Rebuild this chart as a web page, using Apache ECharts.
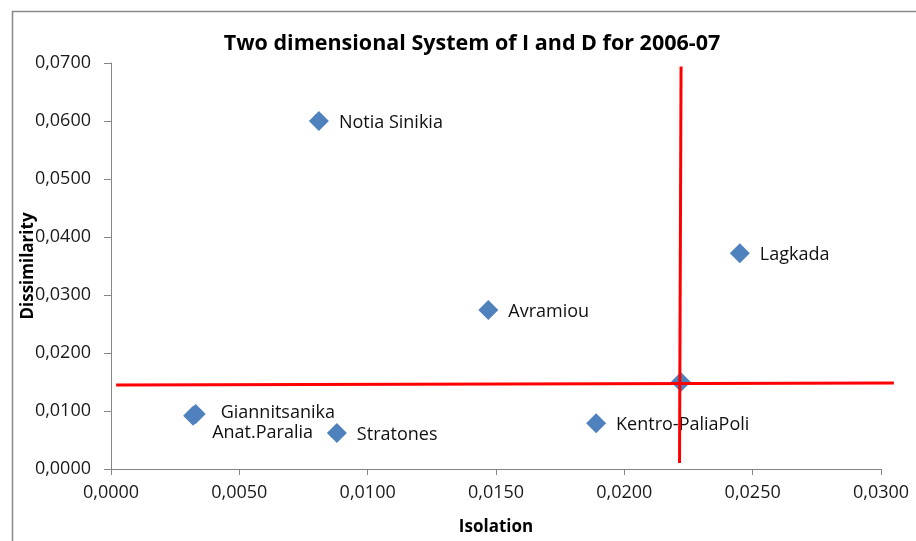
<!DOCTYPE html>
<html>
<head>
<meta charset="utf-8">
<script src="https://cdn.jsdelivr.net/npm/echarts@6/dist/echarts.min.js"></script>
<style>html,body{margin:0;padding:0;background:#fff;}#c{width:916px;height:541px;}</style>
</head>
<body>
<div id="c"></div>
<script>
// Data
const names = ['Notia Sinikia', 'Lagkada', 'Avramiou', '', 'Giannitsanika', 'Anat.Paralia', 'Stratones', 'Kentro-PaliaPoli'];
const isolation = [0.0081, 0.0245, 0.0147, 0.0222, 0.0033, 0.0032, 0.0088, 0.0189];
const dissimilarity = [0.0600, 0.0372, 0.0274, 0.0150, 0.0095, 0.0092, 0.0062, 0.0079];
const hLine = [[0.0002, 0.01447], [0.0305, 0.01482]];
const vLine = [[0.02215, 0.00103], [0.02221, 0.0694]];
const xTicks = [0, 0.005, 0.01, 0.015, 0.02, 0.025, 0.03];
const yTicks = [0, 0.01, 0.02, 0.03, 0.04, 0.05, 0.06, 0.07];

const FONT = 'Open Sans';
const labelOffsets = {'Giannitsanika': [5, -1], 'Anat.Paralia': [-1, 17]};
const fmt = v => v.toFixed(4).replace('.', ',');

const pts = names.map((n, i) => ({
  name: n,
  value: [isolation[i], dissimilarity[i]],
  label: {offset: labelOffsets[n] || [0, 2]}
}));

// plot area geometry
const G_LEFT = 111, G_TOP = 63, G_RIGHT = 35, G_BOTTOM = 72, W = 916;
const X_MAX = xTicks[xTicks.length - 1];
const X_MAX2 = 0.0305; // overlay range so red line can run past the axis end
const plotW = W - G_LEFT - G_RIGHT;
const right2 = W - G_LEFT - plotW * X_MAX2 / X_MAX;

const chart = echarts.init(document.getElementById('c'), null, {renderer: 'canvas'});
chart.setOption({
  animation: false,
  backgroundColor: '#fff',
  title: {
    text: 'Two dimensional System of I and D for 2006-07',
    left: 467, top: 28, textAlign: 'center',
    textStyle: {fontFamily: FONT, fontWeight: 'bold', fontSize: 21.5, color: '#000'}
  },
  graphic: [{
    type: 'rect', left: 10, top: 9,
    shape: {width: 950, height: 600},
    style: {fill: 'none', stroke: '#888', lineWidth: 1.5}, silent: true
  }],
  grid: [
    {left: G_LEFT, top: G_TOP, right: G_RIGHT, bottom: G_BOTTOM, containLabel: false},
    {left: G_LEFT, top: G_TOP, right: right2, bottom: G_BOTTOM, containLabel: false}
  ],
  xAxis: [{
    type: 'value', min: 0, max: X_MAX, interval: 0.005, gridIndex: 0,
    name: 'Isolation', nameLocation: 'middle', nameGap: 50, nameMoveOverlap: false,
    nameTextStyle: {fontFamily: FONT, fontWeight: 'bold', fontSize: 17, color: '#000'},
    axisLine: {show: true, lineStyle: {color: '#868686', width: 1}},
    axisTick: {show: true, length: 6, lineStyle: {color: '#868686'}},
    splitLine: {show: false},
    axisLabel: {formatter: fmt, fontFamily: FONT, fontSize: 18, color: '#1a1a1a', margin: 15}
  }, {
    type: 'value', min: 0, max: X_MAX2, gridIndex: 1, show: false
  }],
  yAxis: [{
    type: 'value', min: 0, max: 0.07, interval: 0.01, gridIndex: 0,
    name: 'Dissimilarity', nameLocation: 'middle', nameGap: 74, nameRotate: 90, nameMoveOverlap: false,
    nameTextStyle: {fontFamily: FONT, fontWeight: 'bold', fontSize: 17, color: '#000'},
    axisLine: {show: true, lineStyle: {color: '#868686', width: 1}},
    axisTick: {show: true, length: 7, lineStyle: {color: '#868686'}},
    splitLine: {show: false},
    axisLabel: {formatter: fmt, fontFamily: FONT, fontSize: 18, color: '#1a1a1a', margin: 20}
  }, {
    type: 'value', min: 0, max: 0.07, gridIndex: 1, show: false
  }],
  series: [
    {
      type: 'scatter', symbol: 'diamond', symbolSize: 20, z: 2,
      xAxisIndex: 0, yAxisIndex: 0,
      itemStyle: {color: '#4F81BD', opacity: 1},
      data: pts,
      label: {
        show: true, position: 'right', distance: 10,
        formatter: p => p.name,
        fontFamily: FONT, fontSize: 18, color: '#111'
      }
    },
    {
      type: 'line', data: hLine, symbol: 'none', clip: false, z: 5,
      xAxisIndex: 1, yAxisIndex: 1,
      lineStyle: {color: '#FF0000', width: 3}, silent: true
    },
    {
      type: 'line', data: vLine, symbol: 'none', clip: false, z: 5,
      xAxisIndex: 1, yAxisIndex: 1,
      lineStyle: {color: '#FF0000', width: 3}, silent: true
    }
  ]
});
</script>
</body>
</html>
